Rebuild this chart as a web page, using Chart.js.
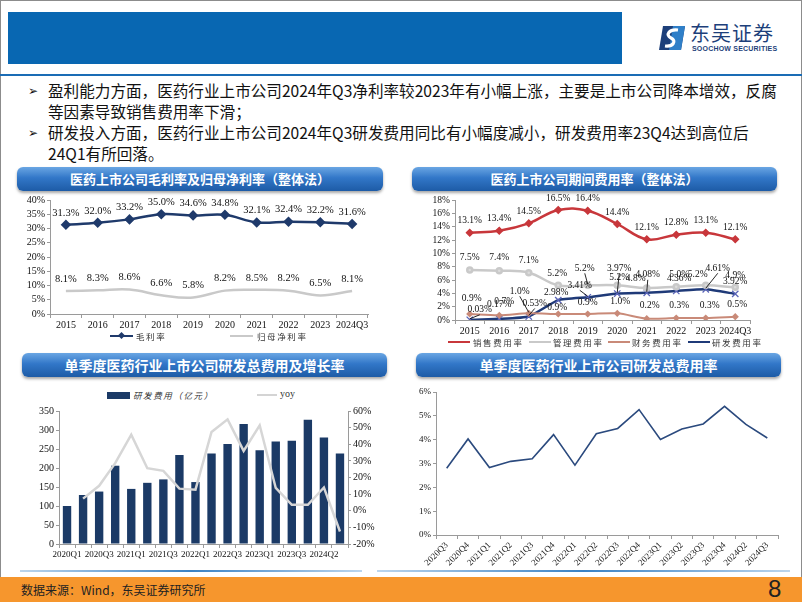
<!DOCTYPE html>
<html lang="zh-CN">
<head>
<meta charset="UTF-8">
<title>医药行业上市公司盈利与费用</title>
<script src="https://cdn.jsdelivr.net/npm/chart.js"></script>
<style>
  body { margin: 0; width: 802px; height: 602px; position: relative; overflow: hidden; background: #fff;
         font-family: 'Noto Sans CJK SC', sans-serif; color: #111; }
  .abs { position: absolute; }
  .frame { left: 0; top: 0; width: 800px; height: 601px; border: 1px solid #8c8c8c; border-bottom: none; }
  .hdr { left: 8px; top: 12px; width: 614px; height: 52px; background: #0867b2; }
  .rule { left: 0; top: 74px; width: 802px; height: 2px; background: #1a6cb5; }
  .logo-cn { left: 690px; top: 21px; font-size: 20px; color: #1d3f7a; letter-spacing: 1px; line-height: 24px; }
  .logo-en { left: 692px; top: 45px; font-size: 7px; font-weight: bold; color: #1d3f7a; font-family: 'Liberation Sans', sans-serif; letter-spacing: 0.2px; }
  .txt { left: 48px; font-size: 15.6px; line-height: 21px; white-space: nowrap; color: #111; }
  .arw { left: 28px; font-size: 12px; font-family: 'DejaVu Sans', sans-serif; line-height: 21px; }
  .ttl { height: 24px; border-radius: 6px; color: #fff; font-weight: bold; text-align: center; line-height: 24px;
         background: linear-gradient(to bottom, #6aa6e3 0%, #3277c8 45%, #1d5ba6 100%);
         box-shadow: 0 2px 3px rgba(0,0,0,0.35); }
  canvas { position: absolute; }
  .lg { position: absolute; font-size: 8.5px; color: #333; letter-spacing: 1.6px; line-height: 12px; white-space: nowrap; }
  .ln { position: absolute; height: 2px; }
  .sep { top: 570px; height: 2px; background: linear-gradient(to right, #bcd6ee, #3b82c4, #bcd6ee); }
  .foot { left: 0; top: 577px; width: 802px; height: 25px; background: #f6962d; }
  .src { left: 21px; top: 580px; font-size: 12px; line-height: 20px; color: #222; }
  .pg { left: 768px; top: 576px; font-size: 24px; line-height: 26px; color: #222; font-family: 'Liberation Sans Narrow', 'Liberation Sans', sans-serif; }
</style>
</head>
<body>
<div class="abs frame"></div>
<div class="abs hdr"></div>
<svg class="abs" style="left:659px;top:26px" width="26" height="24" viewBox="0 0 26 24">
  <polygon points="4,0 26,0 22,24 0,24" fill="#1d3f7a"/>
  <polygon points="14,0 26,0 22,24 10,24" fill="#2f7fc8"/>
  <path d="M19,4 C10,3 6,9 12,12 C18,15 14,21 6,20" stroke="#fff" stroke-width="3.2" fill="none"/>
</svg>
<div class="abs logo-cn">东吴证券</div>
<div class="abs logo-en">SOOCHOW SECURITIES</div>
<div class="abs rule"></div>

<div class="abs arw" style="top:81px">➢</div>
<div class="abs txt" style="top:80px">盈利能力方面，医药行业上市公司2024年Q3净利率较2023年有小幅上涨，主要是上市公司降本增效，反腐</div>
<div class="abs txt" style="top:101px">等因素导致销售费用率下滑；</div>
<div class="abs arw" style="top:123px">➢</div>
<div class="abs txt" style="top:122px">研发投入方面，医药行业上市公司2024年Q3研发费用同比有小幅度减小，研发费用率23Q4达到高位后</div>
<div class="abs txt" style="top:143px">24Q1有所回落。</div>

<div class="abs ttl" style="left:17px;top:167px;width:366px;font-size:13px">医药上市公司毛利率及归母净利率（整体法）</div>
<div class="abs ttl" style="left:412px;top:167px;width:365px;font-size:13px">医药上市公司期间费用率（整体法）</div>
<div class="abs ttl" style="left:22px;top:353px;width:365px;font-size:14px">单季度医药行业上市公司研发总费用及增长率</div>
<div class="abs ttl" style="left:416px;top:353px;width:365px;font-size:14px">单季度医药行业上市公司研发总费用率</div>

<canvas id="c1" width="369" height="144" style="left:9px;top:192px"></canvas>
<canvas id="c2" width="345" height="150" style="left:415px;top:192px"></canvas>
<canvas id="c3" width="361" height="161" style="left:19px;top:403px"></canvas>
<canvas id="c4" width="382" height="183" style="left:406px;top:384px"></canvas>

<!-- legends -->
<div class="ln" style="left:110px;top:335px;width:23px;background:#1f3a6b"></div>
<div class="abs" style="left:119px;top:333px;width:5px;height:5px;background:#1f3a6b;transform:rotate(45deg)"></div>
<div class="lg" style="left:136px;top:330px">毛利率</div>
<div class="ln" style="left:230px;top:335px;width:23px;background:#c9c9c9"></div>
<div class="lg" style="left:257px;top:330px">归母净利率</div>

<div class="ln" style="left:448px;top:341px;width:22px;background:#c8373b"></div>
<div class="lg" style="left:473px;top:336px">销售费用率</div>
<div class="ln" style="left:529px;top:341px;width:22px;background:#c9c9c9"></div>
<div class="lg" style="left:553px;top:336px">管理费用率</div>
<div class="ln" style="left:608px;top:341px;width:22px;background:#c98a78"></div>
<div class="lg" style="left:632px;top:336px">财务费用率</div>
<div class="ln" style="left:688px;top:341px;width:22px;background:#1f3a78"></div>
<div class="lg" style="left:712px;top:336px">研发费用率</div>

<div class="abs" style="left:107px;top:392px;width:23px;height:7px;background:#1b3a66"></div>
<div class="lg" style="left:133px;top:389px;font-style:italic">研发费用（亿元）</div>
<div class="ln" style="left:257px;top:394px;width:20px;background:#d4d4d4"></div>
<div class="lg" style="left:280px;top:388px;font-family:'Liberation Serif',serif;font-size:10px;letter-spacing:0">yoy</div>

<div class="abs sep" style="left:20px;width:342px"></div>
<div class="abs sep" style="left:377px;width:413px"></div>
<div class="abs foot"></div>
<div class="abs src">数据来源：Wind，东吴证券研究所</div>
<div class="abs pg">8</div>

<script>
// ---- data ----
const years = ['2015', '2016', '2017', '2018', '2019', '2020', '2021', '2022', '2023', '2024Q3'];
const grossMargin = [31.3, 32.0, 33.2, 35.0, 34.6, 34.8, 32.1, 32.4, 32.2, 31.6];
const netMargin = [8.1, 8.3, 8.6, 6.6, 5.8, 8.2, 8.5, 8.2, 6.5, 8.1];

const salesRate = [13.1, 13.4, 14.5, 16.5, 16.4, 14.4, 12.1, 12.8, 13.1, 12.1];
const adminRate = [7.5, 7.4, 7.1, 5.2, 5.2, 5.2, 4.8, 5.0, 5.2, 4.9];
const financeRate = [0.9, 0.7, 1.0, 0.9, 0.9, 1.0, 0.2, 0.3, 0.3, 0.5];
const rdRate = [0.03, 0.17, 0.53, 2.98, 3.41, 3.97, 4.08, 4.36, 4.61, 3.92];

const quarters = ['2020Q1', '2020Q2', '2020Q3', '2020Q4', '2021Q1', '2021Q2', '2021Q3', '2021Q4', '2022Q1',
  '2022Q2', '2022Q3', '2022Q4', '2023Q1', '2023Q2', '2023Q3', '2023Q4', '2024Q2', '2024Q3'];
const rdExpense = [100, 129, 138, 206, 145, 161, 170, 234, 163, 238, 263, 316, 247, 270, 272, 327, 280, 238];
const rdYoy = [null, 7.3, 15.0, 28.6, 45.8, 25.6, 24.0, 13.3, 12.7, 47.4, 55.0, 36.0, 51.4, 13.7, 3.6, 3.6, 14.0, -12.5];

const rateQuarters = ['2020Q3', '2020Q4', '2021Q1', '2021Q2', '2021Q3', '2021Q4', '2022Q1', '2022Q2',
  '2022Q3', '2022Q4', '2023Q1', '2023Q2', '2023Q3', '2023Q4', '2024Q2', '2024Q3'];
const rdQuarterRate = [2.80, 4.03, 2.83, 3.09, 3.20, 4.21, 2.93, 4.25, 4.47, 5.26, 4.01, 4.45, 4.66, 5.40, 4.64, 4.07];

// label nudges for the crowded expense chart: [dx, dy, leader line]
const adminOff = [[0,-13],[0,-13],[0,-12],[-1,-12],[-3,-17,1],[2,-8],[-11,-10],[3,-12],[-8,-11],[0,-12]];
const financeOff = [[2,-16],[5,-14],[-9,-22,1],[-1,-7],[0,-12],[3,-12],[3,-13],[3,-13],[4,-13],[2,-12]];
const rdOff = [[10,-10,1],[0,-14],[6,-13,1],[-2,-8],[-8,-12,1],[2,-25,1],[1,-18,1],[3,-12],[12,-21,1],[0,-12]];

// ---- helpers ----
const SERIF = 'Liberation Serif';
const AXIS = '#9a9a9a';
const pct1 = v => v.toFixed(1) + '%';
const pct2 = v => v.toFixed(2) + '%';

const pointLabels = {
  id: 'pointLabels',
  afterDatasetsDraw(chart, args, opts) {
    const ctx = chart.ctx;
    chart.data.datasets.forEach((ds, di) => {
      if (!ds.labelFmt) return;
      const meta = chart.getDatasetMeta(di);
      ctx.save();
      ctx.font = opts.font;
      ctx.fillStyle = '#111';
      ctx.strokeStyle = '#111';
      ctx.lineWidth = 0.9;
      ctx.textAlign = 'center';
      ctx.textBaseline = 'middle';
      meta.data.forEach((pt, i) => {
        const v = ds.data[i];
        if (v == null) return;
        const off = (ds.labelOffsets && ds.labelOffsets[i]) || [0, -12];
        const x = pt.x + off[0], y = pt.y + off[1];
        if (off[2]) {
          ctx.beginPath();
          ctx.moveTo(x, y + 5);
          ctx.lineTo(pt.x, pt.y - 1);
          ctx.stroke();
        }
        ctx.fillText(ds.labelFmt(v), x, y);
      });
      ctx.restore();
    });
  }
};

function xAxis(size, height, extra) {
  return Object.assign({
    offset: true,
    grid: { display: true, drawOnChartArea: false, offset: true, tickLength: 4, color: AXIS },
    border: { display: true, color: AXIS },
    ticks: { font: { family: SERIF, size: size }, color: '#111', padding: 1, maxRotation: 0, autoSkip: false },
    afterFit: s => { s.height = height; }
  }, extra || {});
}

function yAxis(min, max, step, fmt, size, width, extra) {
  return Object.assign({
    min: min, max: max,
    grid: { display: true, drawOnChartArea: false, tickLength: 3, color: AXIS },
    border: { display: true, color: AXIS },
    ticks: { stepSize: step, callback: fmt, font: { family: SERIF, size: size }, color: '#111', padding: 2,
      autoSkip: false },
    afterFit: s => { s.width = width; }
  }, extra || {});
}

const base = {
  responsive: false,
  animation: false,
  devicePixelRatio: 1,
  events: []
};

// ---- chart 1: margins ----
new Chart(document.getElementById('c1'), {
  type: 'line',
  data: {
    labels: years,
    datasets: [
      { label: '毛利率', data: grossMargin, borderColor: '#1f3a6b', backgroundColor: '#1f3a6b',
        borderWidth: 2.5, pointStyle: 'rectRot', pointRadius: 3.5, tension: 0.35, labelFmt: pct1 },
      { label: '归母净利率', data: netMargin, borderColor: '#c9c9c9', backgroundColor: '#c9c9c9',
        borderWidth: 2.5, pointRadius: 0, tension: 0.4, labelFmt: pct1 }
    ]
  },
  options: Object.assign({}, base, {
    layout: { padding: { top: 8, right: 10, left: 0, bottom: 0 } },
    plugins: { legend: { display: false }, tooltip: { enabled: false },
      pointLabels: { font: '10.5px "Liberation Serif"' } },
    scales: {
      x: xAxis(10, 22),
      y: yAxis(0, 40, 5, v => v + '%', 10, 41)
    }
  }),
  plugins: [pointLabels]
});

// ---- chart 2: expense ratios ----
new Chart(document.getElementById('c2'), {
  type: 'line',
  data: {
    labels: years,
    datasets: [
      { label: '销售费用率', data: salesRate, borderColor: '#c8373b', backgroundColor: '#c8373b',
        borderWidth: 2.5, pointStyle: 'rectRot', pointRadius: 2.5, tension: 0.4, labelFmt: pct1 },
      { label: '管理费用率', data: adminRate, borderColor: '#c9c9c9', backgroundColor: '#dcdcdc',
        borderWidth: 2.5, pointStyle: 'circle', pointRadius: 2.5, tension: 0.4,
        labelFmt: pct1, labelOffsets: adminOff },
      { label: '财务费用率', data: financeRate, borderColor: '#c98a78', backgroundColor: '#c98a78',
        borderWidth: 2, pointStyle: 'rectRot', pointRadius: 2.2, tension: 0.3,
        labelFmt: pct1, labelOffsets: financeOff },
      { label: '研发费用率', data: rdRate, borderColor: '#1f3a78', backgroundColor: '#5a64b8',
        pointBorderColor: '#5a64b8', borderWidth: 2.5, pointStyle: 'crossRot', pointRadius: 4.5,
        pointBorderWidth: 1.3, tension: 0.15, labelFmt: pct2, labelOffsets: rdOff }
    ]
  },
  options: Object.assign({}, base, {
    layout: { padding: { top: 8, right: 10, left: 0, bottom: 0 } },
    plugins: { legend: { display: false }, tooltip: { enabled: false },
      pointLabels: { font: '9.5px "Liberation Serif"' } },
    scales: {
      x: xAxis(10, 22),
      y: yAxis(0, 18, 2, v => v + '%', 9.5, 40)
    }
  }),
  plugins: [pointLabels]
});

// ---- chart 3: quarterly R&D expense and yoy ----
new Chart(document.getElementById('c3'), {
  data: {
    labels: quarters,
    datasets: [
      { type: 'line', label: 'yoy', data: rdYoy, yAxisID: 'y1', order: 0, borderColor: '#d6d6d6',
        borderWidth: 2.5, pointRadius: 0, tension: 0, spanGaps: false },
      { type: 'bar', label: '研发费用（亿元）', data: rdExpense, yAxisID: 'y', order: 1,
        backgroundColor: '#1b3a66', categoryPercentage: 0.9, barPercentage: 0.58 }
    ]
  },
  options: Object.assign({}, base, {
    layout: { padding: { top: 8, right: 0, left: 0, bottom: 0 } },
    plugins: { legend: { display: false }, tooltip: { enabled: false } },
    scales: {
      x: xAxis(9, 20, {
        ticks: { font: { family: SERIF, size: 9 }, color: '#111', padding: 1, maxRotation: 0, autoSkip: false,
          callback: (v, i) => (i % 2 === 0 ? quarters[i] : '') }
      }),
      y: yAxis(0, 350, 50, v => v, 10, 40),
      y1: yAxis(-20, 60, 10, v => v + '%', 10, 32, { position: 'right' })
    }
  })
});

// ---- chart 4: quarterly R&D expense ratio ----
new Chart(document.getElementById('c4'), {
  type: 'line',
  data: {
    labels: rateQuarters,
    datasets: [
      { label: '研发费用率', data: rdQuarterRate, borderColor: '#2b4a7e', borderWidth: 1.6,
        pointRadius: 0, tension: 0 }
    ]
  },
  options: Object.assign({}, base, {
    layout: { padding: { top: 8, right: 10, left: 0, bottom: 0 } },
    plugins: { legend: { display: false }, tooltip: { enabled: false } },
    scales: {
      x: xAxis(9, 32, {
        ticks: { font: { family: SERIF, size: 9 }, color: '#222', padding: 1, autoSkip: false,
          minRotation: 45, maxRotation: 45 }
      }),
      y: yAxis(0, 6, 1, v => v + '%', 9, 30)
    }
  })
});
</script>
</body>
</html>
